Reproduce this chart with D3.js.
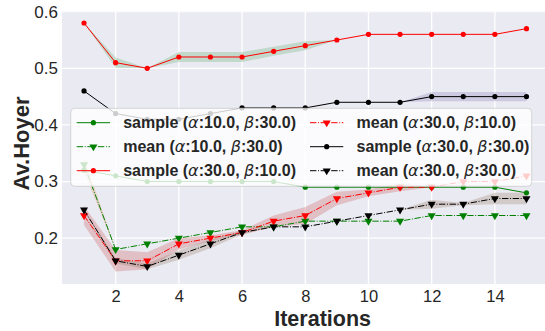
<!DOCTYPE html>
<html>
<head>
<meta charset="utf-8">
<script src="https://cdn.jsdelivr.net/npm/d3@7"></script>
<style>
  html, body { margin: 0; padding: 0; background: #fff; }
  svg { display: block; }
</style>
</head>
<body>
<svg id="chart" width="545" height="331"></svg>
<script>
// ---------------- data ----------------
const iterations = [1,2,3,4,5,6,7,8,9,10,11,12,13,14,15];
const xTicks = [2,4,6,8,10,12,14];
const yTicks = [0.2,0.3,0.4,0.5,0.6];

const sample_10_30 = [0.32,0.31,0.30,0.30,0.30,0.30,0.30,0.29,0.29,0.29,0.29,0.29,0.29,0.29,0.28];
const mean_10_30   = [0.33,0.18,0.19,0.20,0.21,0.22,0.22,0.23,0.23,0.23,0.23,0.24,0.24,0.24,0.24];
const sample_30_10 = [0.58,0.51,0.50,0.52,0.52,0.52,0.53,0.54,0.55,0.56,0.56,0.56,0.56,0.56,0.57];
const mean_30_10   = [0.24,0.16,0.16,0.19,0.20,0.21,0.23,0.24,0.27,0.28,0.29,0.29,0.30,0.30,0.31];
const sample_30_30 = [0.46,0.42,0.41,0.41,0.42,0.43,0.43,0.43,0.44,0.44,0.44,0.45,0.45,0.45,0.45];
const mean_30_30   = [0.25,0.16,0.15,0.17,0.19,0.21,0.22,0.22,0.23,0.24,0.25,0.26,0.26,0.27,0.27];

// half-widths of the shaded spread bands
const spread_s_10_30 = [0,0,0,0,0,0,0,0,0,0,0,0,0,0,0];
const spread_m_10_30 = [0.013,0,0,0,0,0,0,0,0,0,0,0,0,0,0];
const spread_s_30_10 = [0,0.009,0,0.009,0.009,0.009,0.008,0.008,0,0,0,0,0,0,0];
const spread_m_30_10 = [0.017,0.019,0.015,0.01,0.005,0.004,0.01,0.015,0.012,0.006,0.007,0,0,0,0];
const spread_s_30_30 = [0,0,0,0,0,0,0,0,0,0,0,0.008,0.008,0.008,0.008];
const spread_m_30_30 = [0,0.005,0.005,0.008,0.008,0.003,0,0,0,0,0,0.008,0.002,0.01,0.01];

const labels = [
  ["sample", "10.0", "30.0"],
  ["mean",   "10.0", "30.0"],
  ["sample", "30.0", "10.0"],
  ["mean",   "30.0", "10.0"],
  ["sample", "30.0", "30.0"],
  ["mean",   "30.0", "30.0"]
];

// ---------------- styling ----------------
const series = [
  {vals: sample_10_30, spread: spread_s_10_30, color: "#008000", band: "#4C72B0", kind: "sample"},
  {vals: mean_10_30,   spread: spread_m_10_30, color: "#008000", band: "#DD8452", kind: "mean"},
  {vals: sample_30_10, spread: spread_s_30_10, color: "#ff0000", band: "#55A868", kind: "sample"},
  {vals: mean_30_10,   spread: spread_m_30_10, color: "#ff0000", band: "#C44E52", kind: "mean"},
  {vals: sample_30_30, spread: spread_s_30_30, color: "#000000", band: "#8172B3", kind: "sample"},
  {vals: mean_30_30,   spread: spread_m_30_30, color: "#000000", band: "#937860", kind: "mean"}
];

const svg = d3.select("#chart");
const W = 545, H = 331;
const plotL = 62, plotT = 11.7, plotB = 284;

const x = d3.scaleLinear().domain([0.3, 15.7]).range([61.9, 548.6]);
const y = d3.scaleLinear().domain([0.119, 0.6]).range([plotB, plotT]);

const textColor = "#262626";
const font = "'Liberation Sans', Arial, sans-serif";

svg.append("defs").append("clipPath").attr("id", "clip")
  .append("rect").attr("x", plotL).attr("y", plotT).attr("width", W - plotL).attr("height", plotB - plotT);

// background
svg.append("rect").attr("x", plotL).attr("y", plotT)
  .attr("width", W - plotL).attr("height", plotB - plotT).attr("fill", "#EAEAF2");

// grid
const grid = svg.append("g").attr("clip-path", "url(#clip)");
grid.selectAll(".gx").data(xTicks).enter().append("line")
  .attr("x1", d => x(d)).attr("x2", d => x(d)).attr("y1", plotT).attr("y2", plotB)
  .attr("stroke", "#fff").attr("stroke-width", 1.3);
grid.selectAll(".gy").data(yTicks).enter().append("line")
  .attr("x1", plotL).attr("x2", W).attr("y1", d => y(d)).attr("y2", d => y(d))
  .attr("stroke", "#fff").attr("stroke-width", 1.3);

// axes tick labels via d3 axes
const xAxis = d3.axisBottom(x).tickValues(xTicks).tickSize(0).tickPadding(0).tickFormat(d3.format("d"));
const gx = svg.append("g").attr("transform", `translate(0,${plotB})`).call(xAxis);
gx.select(".domain").remove();
gx.selectAll("text").attr("y", 18).attr("dy", 0).attr("font-size", 16.5).attr("font-family", font).attr("fill", textColor);

const yAxis = d3.axisLeft(y).tickValues(yTicks).tickSize(0).tickPadding(0).tickFormat(d3.format(".1f"));
const gy = svg.append("g").attr("transform", `translate(${plotL - 4},0)`).call(yAxis);
gy.select(".domain").remove();
gy.selectAll("text").attr("x", 0).attr("font-size", 17).attr("font-family", font).attr("fill", textColor);

// axis titles
svg.append("text").attr("x", x(8.55)).attr("y", 325.5).attr("text-anchor", "middle")
  .attr("font-family", font).attr("font-weight", "bold").attr("font-size", 21.5).attr("fill", textColor)
  .text("Iterations");
svg.append("text").attr("transform", `translate(28.5,${143.5}) rotate(-90)`).attr("text-anchor", "middle")
  .attr("font-family", font).attr("font-weight", "bold").attr("font-size", 22).attr("fill", textColor)
  .text("Av.Hoyer");

// data layer
const layer = svg.append("g").attr("clip-path", "url(#clip)");
const area = d3.area().x((d, i) => x(iterations[i])).y0(d => y(d[0])).y1(d => y(d[1]));
const line = d3.line().x((d, i) => x(iterations[i])).y(d => y(d));
const tri = d3.symbol().type(d3.symbolTriangle).size(28);

series.forEach(s => {
  const bandData = s.vals.map((v, i) => [v - s.spread[i], v + s.spread[i]]);
  layer.append("path").datum(bandData).attr("d", area)
    .attr("fill", s.band).attr("fill-opacity", 0.28).attr("stroke", "none");
});

function drawMarker(g, s, px, py) {
  if (s.kind === "sample") {
    g.append("circle").attr("cx", px).attr("cy", py).attr("r", 2.6).attr("fill", s.color);
  } else {
    g.append("path").attr("d", tri).attr("transform", `translate(${px},${py}) rotate(180)`).attr("fill", s.color);
  }
}

series.forEach(s => {
  layer.append("path").datum(s.vals).attr("d", line)
    .attr("fill", "none").attr("stroke", s.color).attr("stroke-width", 1)
    .attr("stroke-dasharray", s.kind === "mean" ? "6.4,1.6,1,1.6" : null);
  s.vals.forEach((v, i) => drawMarker(layer, s, x(iterations[i]), y(v)));
});

// legend
const leg = svg.append("g");
leg.append("rect").attr("x", 70.7).attr("y", 108.3).attr("width", 461).attr("height", 78)
  .attr("rx", 4).attr("fill", "#fff").attr("fill-opacity", 0.8)
  .attr("stroke", "#cccccc").attr("stroke-opacity", 0.8).attr("stroke-width", 1);

const colX = [76.7, 310];
const rowY = [122.7, 146.7, 170.7];
series.forEach((s, k) => {
  const col = Math.floor(k / 3), row = k % 3;
  const hx = colX[col], hy = rowY[row];
  leg.append("line").attr("x1", hx).attr("x2", hx + 33.3).attr("y1", hy).attr("y2", hy)
    .attr("stroke", s.color).attr("stroke-width", 1)
    .attr("stroke-dasharray", s.kind === "mean" ? "6.4,1.6,1,1.6" : null);
  drawMarker(leg, s, hx + 16.7, hy);
  const lab = labels[k];
  const t = leg.append("text").attr("x", hx + 46.5).attr("y", hy).attr("dy", "0.36em")
    .attr("font-family", font).attr("font-size", 16).attr("font-weight", "bold").attr("fill", textColor);
  t.append("tspan").text(lab[0] + " (");
  t.append("tspan").attr("font-family", "'DejaVu Sans', sans-serif").attr("font-style", "italic").attr("font-weight", "normal").text("α");
  t.append("tspan").text(":" + lab[1] + ", ");
  t.append("tspan").attr("font-family", "'DejaVu Sans', sans-serif").attr("font-style", "italic").attr("font-weight", "normal").text("β");
  t.append("tspan").text(":" + lab[2] + ")");
});
</script>
</body>
</html>
